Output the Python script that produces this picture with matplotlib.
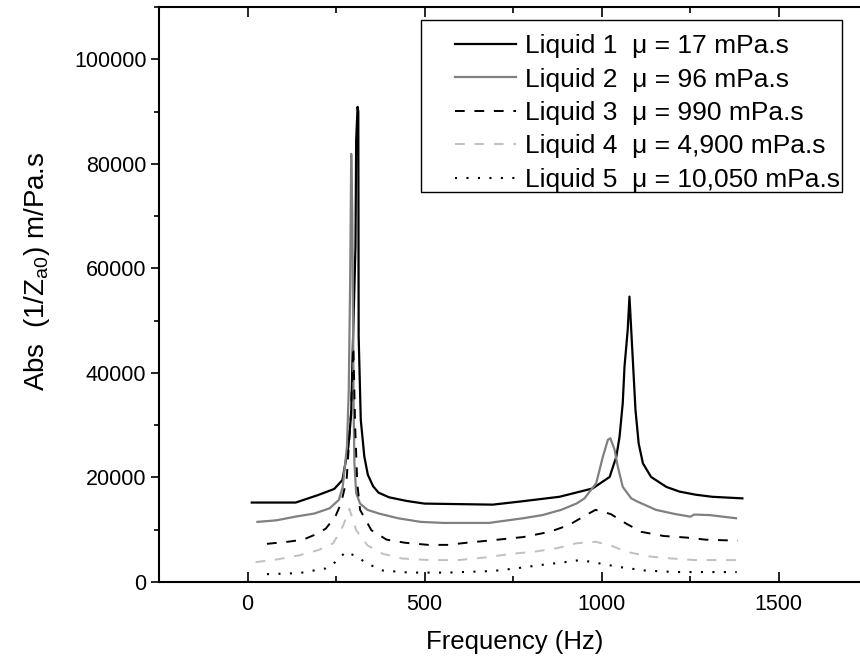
import matplotlib
matplotlib.use("Agg")
import matplotlib.pyplot as plt
from matplotlib.ticker import MultipleLocator
from matplotlib.patches import Rectangle

plt.rcParams['font.family'] = ['Liberation Sans', 'DejaVu Sans']
plt.rcParams['mathtext.fontset'] = 'custom'
plt.rcParams['mathtext.rm'] = 'Liberation Sans'

# frequency (Hz) / |1/Za0| (m/Pa.s)
f1 = [12, 136, 198, 245, 268, 285, 293, 297, 305, 307, 311, 313, 314, 320, 330, 340, 355, 370,
      400, 450, 500, 693, 771, 881, 975, 1023, 1042, 1051, 1060, 1065, 1074, 1079, 1084, 1088,
      1096, 1105, 1117, 1140, 1183, 1220, 1266, 1313, 1398]
y1 = [15200, 15200, 16600, 17800, 19500, 25900, 32300, 43800, 64100, 84600, 90900, 90000, 47000,
      31000, 24000, 20500, 18300, 17100, 16200, 15500, 15000, 14800, 15400, 16300, 17900, 20100,
      24000, 27800, 34200, 41200, 48200, 54600, 48200, 43100, 32900, 26500, 22700, 20100, 18200,
      17300, 16700, 16300, 16000]

f2 = [28, 82, 135, 189, 232, 258, 269, 281, 286, 290, 293, 296, 300, 302, 307, 318, 339, 371,
      425, 489, 554, 682, 725, 779, 833, 886, 929, 952, 985, 1004, 1018, 1025, 1037, 1046, 1060,
      1084, 1101, 1154, 1208, 1251, 1262, 1305, 1380]
y2 = [11500, 11800, 12500, 13100, 14100, 15700, 18200, 25900, 36700, 57800, 81900, 70500, 32300,
      22700, 17000, 15000, 13800, 13100, 12200, 11500, 11300, 11300, 11700, 12200, 12800, 13800,
      15000, 16000, 18900, 24000, 27200, 27500, 25300, 22100, 18200, 16000, 15400, 13800, 13000,
      12500, 12900, 12800, 12200]

f3 = [55, 114, 157, 189, 221, 248, 264, 280, 292, 299, 304, 310, 318, 350, 393, 446, 511, 564,
      618, 693, 779, 854, 908, 951, 983, 1026, 1069, 1112, 1176, 1240, 1294, 1385]
y3 = [7300, 7700, 8100, 9000, 10200, 12500, 15000, 19500, 32000, 45000, 30000, 19000, 13800,
      9900, 8100, 7500, 7100, 7100, 7500, 8000, 8600, 9600, 10900, 12600, 13800, 13000, 11200,
      9600, 8800, 8500, 8100, 7900]

f4 = [23, 82, 146, 200, 242, 269, 288, 307, 339, 382, 436, 511, 597, 672, 747, 811, 876, 929,
      983, 1026, 1069, 1133, 1197, 1262, 1400]
y4 = [3800, 4300, 5100, 6100, 7400, 10600, 14000, 9900, 7000, 5400, 4500, 4200, 4200, 4700,
      5400, 5800, 6500, 7400, 7700, 7000, 5800, 4900, 4500, 4200, 4200]

f5 = [55, 146, 221, 248, 278, 307, 339, 382, 457, 564, 693, 758, 822, 897, 940, 983, 1047, 1122,
      1208, 1382]
y5 = [1500, 1700, 2600, 3800, 5800, 4900, 3500, 2200, 1800, 1800, 2100, 2600, 3200, 3800, 4200,
      3700, 2900, 2200, 1900, 1900]

labels = ['Liquid 1  \u03bc = 17 mPa.s', 'Liquid 2  \u03bc = 96 mPa.s',
          'Liquid 3  \u03bc = 990 mPa.s', 'Liquid 4  \u03bc = 4,900 mPa.s',
          'Liquid 5  \u03bc = 10,050 mPa.s']

fig = plt.figure(figsize=(8.6, 6.64), dpi=100)
ax = fig.add_axes([159 / 860, 1 - 582 / 664, 708 / 860, 575 / 664])

ax.plot(f1, y1, color='black', lw=1.6, label=labels[0])
ax.plot(f2, y2, color='#808080', lw=1.6, label=labels[1])
ax.plot(f3, y3, color='black', lw=1.4, linestyle=(0, (5, 5)), label=labels[2])
ax.plot(f4, y4, color='#c0c0c0', lw=1.4, linestyle=(0, (5, 5)), label=labels[3])
ax.plot(f5, y5, color='black', lw=1.5, linestyle=(0, (1, 4.5)), label=labels[4])

ax.set_xlim(-250, 1750)
ax.set_ylim(0, 110000)
ax.xaxis.set_major_locator(MultipleLocator(500))
ax.xaxis.set_minor_locator(MultipleLocator(250))
ax.yaxis.set_major_locator(MultipleLocator(20000))
ax.yaxis.set_minor_locator(MultipleLocator(10000))

for s in ax.spines.values():
    s.set_linewidth(1.5)
ax.tick_params(axis='x', which='both', direction='in', top=True, labelsize=15.5, pad=9, width=1.2)
ax.tick_params(axis='x', which='major', length=7)
ax.tick_params(axis='x', which='minor', length=4)
ax.tick_params(axis='y', which='both', direction='out', labelsize=15.5, pad=3, width=1.2)
ax.tick_params(axis='y', which='major', length=6)
ax.tick_params(axis='y', which='minor', length=3.5)

ax.set_xlabel('Frequency (Hz)', fontsize=18.5)
ax.set_ylabel(r'Abs  (1/Z$_{\mathregular{a0}}$) m/Pa.s', fontsize=20)
ax.xaxis.set_label_coords(0.503, -0.083)
ax.yaxis.set_label_coords(-0.151, 0.54)

# legend box drawn as a plain frame, entries placed inside it
fig.add_artist(Rectangle((421 / 860, 1 - 192 / 664), 421 / 860, 172 / 664,
                         transform=fig.transFigure, facecolor='none',
                         edgecolor='black', lw=1.0))
leg = ax.legend(loc='upper left', bbox_to_anchor=(455 / 860, 1 - 34 / 664),
                bbox_transform=fig.transFigure, borderaxespad=0, borderpad=0,
                fontsize=19, frameon=False, handlelength=2.3, handletextpad=0.35,
                labelspacing=0.36)

fig.savefig('out.png', dpi=100)
